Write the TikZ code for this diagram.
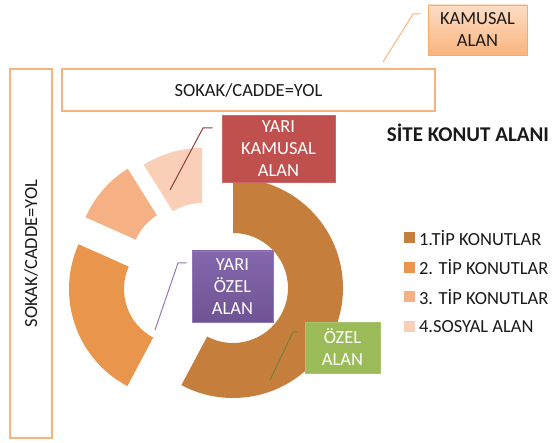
\documentclass[tikz,border=0pt]{standalone}
\usepackage{fontspec}
\setmainfont{Carlito}
\usetikzlibrary{positioning, calc}
\definecolor{cbrown}{HTML}{C67E3D}
\definecolor{corange}{HTML}{E9964C}
\definecolor{clight}{HTML}{F5B083}
\definecolor{cpale}{HTML}{F9CFB8}
\definecolor{cborder}{HTML}{F9B27A}
\definecolor{cpeach}{HTML}{FAB47E}
\definecolor{cred}{HTML}{C0504D}
\definecolor{cpurple}{HTML}{7E5FA8}
\definecolor{cgreen}{HTML}{9BBB59}
\definecolor{ctext}{HTML}{1A1A1A}
\tikzset{
  every picture/.style={x=1pt, y=1pt, font=\fontsize{18.5}{22}\selectfont, line width=1pt},
  road/.style={draw=cborder, fill=white, line width=1.6pt, inner sep=0pt, text=ctext},
  tag/.style={draw=#1!85!white, fill=#1, text=white, align=center, inner sep=0pt, line width=0.6pt},
  leader/.style={draw=#1, line width=1pt},
  legsq/.style={fill=#1, minimum size=11pt, inner sep=0pt},
  legtext/.style={anchor=west, inner sep=0pt, text=ctext},
}
% one piece of the ring: apex, start angle, end angle, colour
\newcommand{\ringpart}[4]{%
  \fill[#4] ($(#1)+(#2:110)$) arc[start angle=#2, end angle=#3, radius=110]
    -- ($(#1)+(#3:55)$) arc[start angle=#3, end angle=#2, radius=55] -- cycle;}

\begin{document}
\begin{tikzpicture}
  \useasboundingbox (0,0) rectangle (554,443);
  % ring
  \coordinate (p1) at (233,155);
  \coordinate (p2) at (179,154);
  \coordinate (p3) at (186,181);
  \coordinate (p4) at (202,185);
  \ringpart{p1}{90}{-118}{cbrown}
  \ringpart{p2}{242}{156}{corange}
  \ringpart{p3}{156}{122}{clight}
  \ringpart{p4}{122}{90}{cpale}

  % roads
  \node[road, minimum width=373pt, minimum height=42pt] (roadh) at (248.5,353) {SOKAK/CADDE=YOL};
  \node[road, rotate=90, minimum width=369pt, minimum height=42pt] (roadv) at (31,189.5) {SOKAK/CADDE=YOL};

  % labels
  \node[draw=cpeach!80!orange, top color=cpeach!45, bottom color=cpeach, text=ctext, align=center,
        inner sep=0pt, minimum width=99pt, minimum height=50pt, line width=0.8pt] (kamusal) at (477.5,413) {KAMUSAL\\ALAN};
  \node[tag=cred, minimum width=113pt, minimum height=67pt] (yarikam) at (278.5,294.5) {YARI\\KAMUSAL\\ALAN};
  \node[tag=cpurple, top color=cpurple!95!white, bottom color=cpurple!88!black, minimum width=81pt, minimum height=71pt] (yariozel) at (232.5,156.5) {YARI\\ÖZEL\\ALAN};
  \node[tag=cgreen, minimum width=75pt, minimum height=51pt] (ozel) at (342.5,95.5) {ÖZEL\\ALAN};

  % leader lines
  \coordinate (kam0) at (383,381);  \coordinate (kam1) at (413,429);
  \coordinate (yk0) at (170,253);   \coordinate (yk1) at (203,315);
  \coordinate (yo0) at (155,113);   \coordinate (yo1) at (178,180);
  \coordinate (oz0) at (270,63);    \coordinate (oz1) at (293,111);
  \draw[leader=cpeach] (kam0) -- (kam1) -- ([xshift=-7pt]kam1 -| kamusal.west);
  \draw[leader=cred!75!black] (yk0) -- (yk1) -- ([xshift=-9pt]yk1 -| yarikam.west);
  \draw[leader=cpurple!85!white] (yo0) -- (yo1) -- ([xshift=-5pt]yo1 -| yariozel.west);
  \draw[leader=cgreen!70!black] (oz0) -- (oz1) -- ([xshift=-7pt]oz1 -| ozel.west);

  % title and legend
  \node[font=\bfseries\fontsize{21}{25}\selectfont, text=ctext] (title) at (468,310) {SİTE KONUT ALANI};
  \node[legsq=cbrown] (l1) at (409.5,205) {};
  \node[legsq=corange, below=17.5pt of l1] (l2) {};
  \node[legsq=clight, below=17.5pt of l2] (l3) {};
  \node[legsq=cpale, below=17.5pt of l3] (l4) {};
  \node[legtext, right=3pt of l1] (t1) {1.TİP KONUTLAR};
  \node[legtext, right=3pt of l2] (t2) {2. TİP KONUTLAR};
  \node[legtext, right=3pt of l3] (t3) {3. TİP KONUTLAR};
  \node[legtext, right=3pt of l4] (t4) {4.SOSYAL ALAN};
\end{tikzpicture}
\end{document}
